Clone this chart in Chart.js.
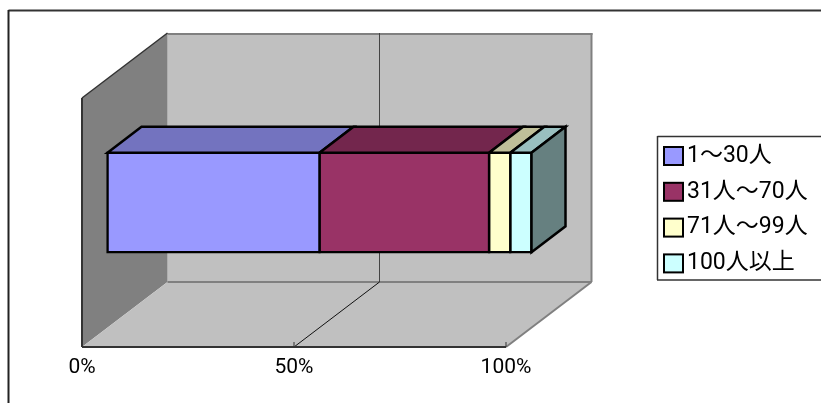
<!DOCTYPE html>
<html>
<head>
<meta charset="utf-8">
<style>
  html, body { margin: 0; padding: 0; background: #fff; }
  canvas { display: block; }
</style>
<script src="https://cdn.jsdelivr.net/npm/chart.js@4"></script>
</head>
<body>
<canvas id="sizeChart" width="821" height="403"></canvas>
<script>
const category = ['従業員数'];
const seriesNames = ['1～30人', '31人～70人', '71人～99人', '100人以上'];
const seriesValues = [50, 40, 5, 5];
const frontColors = ['#9999FF', '#993366', '#FFFFCC', '#CCFFFF'];
const topColors = ['#7373BF', '#73264D', '#BFBF99', '#99BFBF'];
const sideColor = '#668080';
const xTicks = [0, 50, 100];

// box depth, bar depth and how far the bar sits in from the front of the box
const wallDepth = { x: 85.5, y: -65 };
const barDepth = { x: 34, y: -26 };
const barShift = { x: 25.5, y: -20 };

function poly(ctx, pts, fill, stroke, width) {
    ctx.beginPath();
    pts.forEach((p, i) => i ? ctx.lineTo(p[0], p[1]) : ctx.moveTo(p[0], p[1]));
    ctx.closePath();
    if (fill) { ctx.fillStyle = fill; ctx.fill(); }
    if (stroke) { ctx.strokeStyle = stroke; ctx.lineWidth = width; ctx.stroke(); }
}

function line(ctx, x1, y1, x2, y2, color, width) {
    ctx.beginPath();
    ctx.moveTo(x1, y1);
    ctx.lineTo(x2, y2);
    ctx.strokeStyle = color;
    ctx.lineWidth = width;
    ctx.stroke();
}

const box3d = {
    id: 'box3d',
    beforeDraw(chart) {
        const ctx = chart.ctx;
        line(ctx, 8.5, 10.5, 821, 10.5, '#333', 2);
        line(ctx, 8.5, 10, 8.5, 403, '#222', 2);
    },
    afterLayout(chart) {
        // the legend sits to the right of the box, outside the chart area
        const legend = chart.legend;
        const labels = legend.options.labels;
        legend.left = 667 - labels.padding;
        legend.right = 821;
        legend.top = 156 - labels.font.size / 2 - labels.padding;
        legend.bottom = 300;
    },
    beforeDatasetsDraw(chart) {
        const ctx = chart.ctx;
        const { left, right, top, bottom } = chart.chartArea;
        const dx = wallDepth.x, dy = wallDepth.y;
        const x = chart.scales.x;

        poly(ctx, [[left + dx, top + dy], [right + dx, top + dy], [right + dx, bottom + dy], [left + dx, bottom + dy]], '#C0C0C0');
        poly(ctx, [[left, top], [left + dx, top + dy], [left + dx, bottom + dy], [left, bottom]], '#808080');
        poly(ctx, [[left, bottom], [left + dx, bottom + dy], [right + dx, bottom + dy], [right, bottom]], '#C0C0C0');

        // wall and floor edges
        line(ctx, left + dx, top + dy + 1, right + dx + 1, top + dy + 1, '#808080', 2);
        line(ctx, right + dx, top + dy, right + dx, bottom + dy, '#808080', 2);
        line(ctx, left + dx, bottom + dy, right + dx, bottom + dy, '#808080', 2);
        line(ctx, right + dx, bottom + dy, right, bottom, '#808080', 2);
        line(ctx, left, top, left + dx, top + dy, '#333', 1.5);
        line(ctx, left, top, left, bottom, '#333', 2);

        // gridline at every tick except the ends
        xTicks.slice(1, -1).forEach(t => {
            const px = x.getPixelForValue(t);
            line(ctx, px + dx, top + dy, px + dx, bottom + dy, '#444', 1);
            line(ctx, px, bottom, px + dx, bottom + dy, '#111', 1);
        });

        line(ctx, left, bottom, right, bottom, '#333', 2);
        xTicks.forEach(t => {
            const px = x.getPixelForValue(t);
            line(ctx, px, bottom, px, bottom - 5, '#333', 1);
        });

        ctx.save();
        ctx.translate(barShift.x, barShift.y);
    },
    afterDatasetsDraw(chart) {
        const ctx = chart.ctx;
        ctx.restore();
        const dx = barDepth.x, dy = barDepth.y;
        let last;
        chart.data.datasets.forEach((ds, i) => {
            const bar = chart.getDatasetMeta(i).data[0];
            const x0 = bar.base + barShift.x, x1 = bar.x + barShift.x;
            const yTop = bar.y - bar.height / 2 + barShift.y;
            poly(ctx, [[x0, yTop], [x0 + dx, yTop + dy], [x1 + dx, yTop + dy], [x1, yTop]], topColors[i], '#000', 2.5);
            last = { x1, yTop, yBot: yTop + bar.height };
        });
        poly(ctx, [[last.x1, last.yTop], [last.x1 + dx, last.yTop + dy], [last.x1 + dx, last.yBot + dy], [last.x1, last.yBot]], sideColor, '#000', 2.5);

        // legend frame and swatches
        line(ctx, 821, 136.5, 657.5, 136.5, '#333', 1.5);
        line(ctx, 657.5, 136, 657.5, 280, '#333', 1.5);
        line(ctx, 657, 280, 821, 280, '#333', 1.5);
        frontColors.forEach((c, i) => {
            ctx.fillStyle = c;
            ctx.strokeStyle = '#000';
            ctx.lineWidth = 2;
            const y = 147 + i * 35.8;
            ctx.fillRect(664, y, 19, 18);
            ctx.strokeRect(664, y, 19, 18);
        });
    }
};

new Chart(document.getElementById('sizeChart').getContext('2d'), {
    type: 'bar',
    data: {
        labels: category,
        datasets: seriesNames.map((name, i) => ({
            label: name,
            data: [seriesValues[i]],
            backgroundColor: frontColors[i],
            borderColor: '#000',
            borderWidth: 2.5,
            borderSkipped: false,
            inflateAmount: 1.25,
            barPercentage: 0.4,
            categoryPercentage: 1,
            clip: false
        }))
    },
    options: {
        indexAxis: 'y',
        responsive: false,
        animation: false,
        layout: { padding: { left: 82, right: 315, top: 98, bottom: 16 } },
        scales: {
            x: {
                stacked: true,
                min: 0,
                max: 100,
                afterFit(scale) { scale.height = 40; },
                afterBuildTicks(scale) { scale.ticks = xTicks.map(v => ({ value: v })); },
                grid: { display: false },
                border: { display: false },
                ticks: {
                    maxRotation: 0,
                    color: '#000',
                    padding: 0,
                    font: { family: 'Roboto, "Liberation Sans"', size: 21 },
                    callback: v => v + '%'
                }
            },
            y: { stacked: true, display: false }
        },
        plugins: {
            tooltip: { enabled: false },
            legend: {
                position: 'chartArea',
                align: 'start',
                labels: {
                    boxWidth: 8.5,
                    boxHeight: 20,
                    padding: 12.8,
                    color: '#000',
                    font: { family: 'Roboto, "Noto Sans CJK JP"', size: 23 },
                    generateLabels: chart => chart.data.datasets.map((ds, i) => ({
                        text: ds.label,
                        fillStyle: 'rgba(0,0,0,0)',
                        strokeStyle: 'rgba(0,0,0,0)',
                        lineWidth: 0,
                        datasetIndex: i
                    }))
                }
            }
        }
    },
    plugins: [box3d]
});
</script>
</body>
</html>
